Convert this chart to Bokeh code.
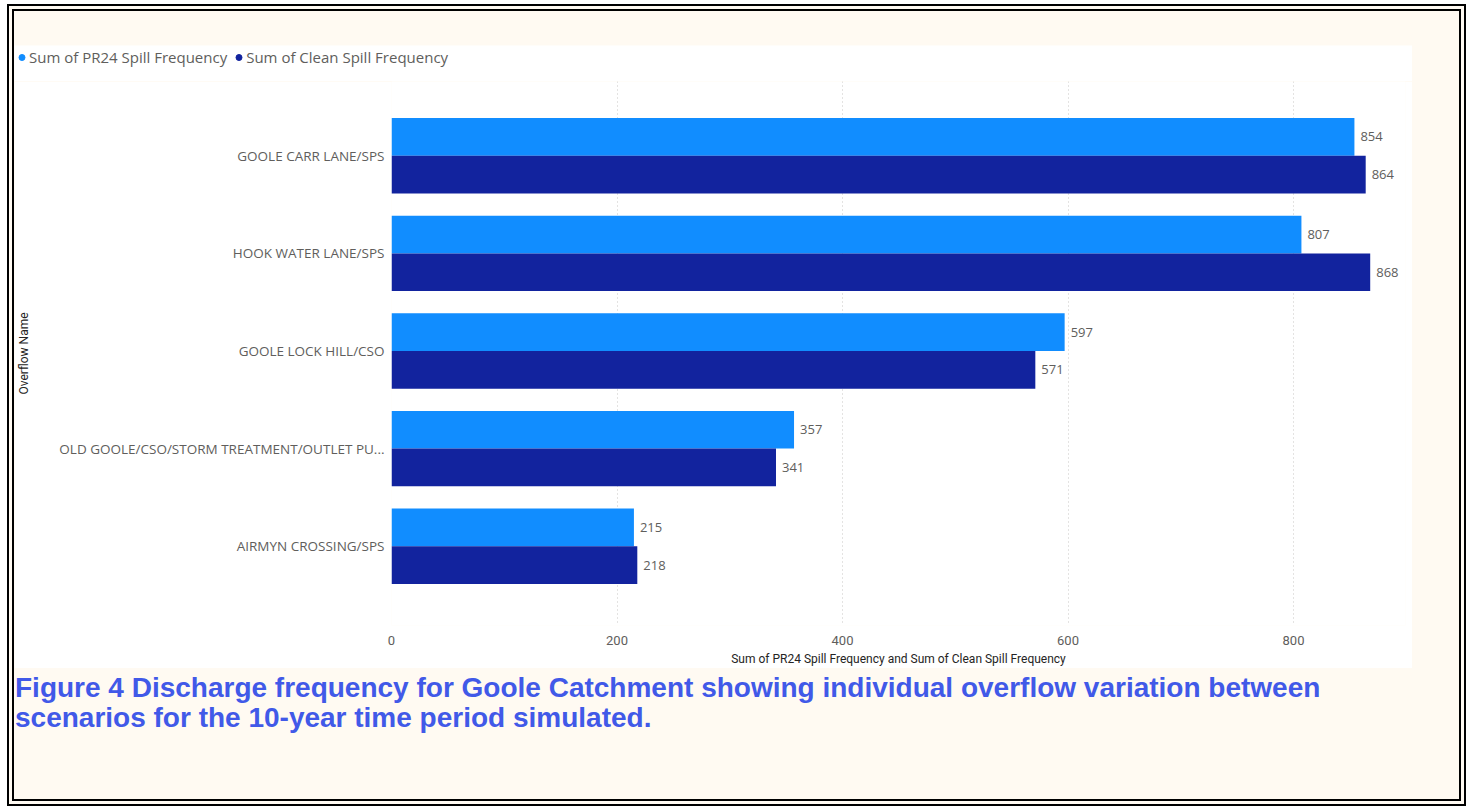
from bokeh.plotting import figure
from bokeh.models import (ColumnDataSource, Range1d, FixedTicker, LabelSet, Legend,
                          LegendItem, Div)
from bokeh.layouts import column, row
from bokeh.embed import file_html
from bokeh.resources import INLINE
from bokeh.core.properties import value
from bokeh.transform import dodge

# ---- data ----
overflows = ["GOOLE CARR LANE/SPS", "HOOK WATER LANE/SPS", "GOOLE LOCK HILL/CSO",
             "OLD GOOLE/CSO/STORM TREATMENT/OUTLET PU...", "AIRMYN CROSSING/SPS"]
pr24_spills = [854, 807, 597, 357, 215]
clean_spills = [864, 868, 571, 341, 218]
series_names = ["Sum of PR24 Spill Frequency", "Sum of Clean Spill Frequency"]
x_ticks = [0, 200, 400, 600, 800]
x_title = "Sum of PR24 Spill Frequency and Sum of Clean Spill Frequency"
y_title = "Overflow Name"
caption = ("Figure 4 Discharge frequency for Goole Catchment showing individual overflow variation between"
           "<br>scenarios for the 10-year time period simulated.")

# ---- styles ----
PR24_C = "#118DFF"
CLEAN_C = "#12239E"
GRAY = "#605E5C"
DARK = "#252423"
CREAM = "#FFFAF2"
UI_FONT = "Open Sans"
NUM_FONT = "Roboto"
BAR_H = 0.386

pos = list(range(len(overflows)))
src = ColumnDataSource(dict(pos=pos, name=overflows, pr24=pr24_spills, clean=clean_spills))

# ---- legend strip (top of the visual) ----
lg = figure(width=1398, height=36, output_backend="svg", toolbar_location=None, title=None,
            x_axis_type=None, y_axis_type=None, min_border=0,
            x_range=Range1d(0, 900), y_range=Range1d(-1, 5),
            background_fill_color="white", border_fill_color="white", outline_line_color=None)
r1 = lg.scatter(x="pr24", y="pos", size=0, color=PR24_C, source=src)
r2 = lg.scatter(x="clean", y="pos", size=0, color=CLEAN_C, source=src)
legend = Legend(items=[LegendItem(label=series_names[0], renderers=[r1]),
                       LegendItem(label=series_names[1], renderers=[r2])],
                orientation="horizontal", location=(0, 14),
                background_fill_alpha=0, border_line_color=None,
                glyph_width=15, glyph_height=18, label_standoff=0, spacing=4,
                padding=0, margin=0, label_text_font=UI_FONT, label_text_font_size="15px",
                label_text_color=GRAY, label_height=18)
lg.add_layout(legend)

# ---- main chart ----
p = figure(width=1398, height=587, output_backend="svg", toolbar_location=None, title=None,
           x_range=Range1d(0, 899.3), y_range=Range1d(4.812, -0.761),
           min_border_left=377, min_border_right=7, min_border_top=0, min_border_bottom=38,
           background_fill_color="white", border_fill_color="white", outline_line_color=None)

p.hbar(y=dodge("pos", -BAR_H / 2), left=0, right="pr24", height=BAR_H, source=src,
       fill_color=PR24_C, line_color=None)
p.hbar(y=dodge("pos", BAR_H / 2), left=0, right="clean", height=BAR_H, source=src,
       fill_color=CLEAN_C, line_color=None)

for fld, off in (("pr24", -BAR_H / 2), ("clean", BAR_H / 2)):
    p.add_layout(LabelSet(x=fld, y=dodge("pos", off), text=fld, source=src, x_offset=6,
                          text_baseline="middle", text_align="left",
                          text_font=value(UI_FONT), text_font_size="13px", text_color=GRAY))

# axes
xa = p.xaxis[0]
xa.ticker = FixedTicker(ticks=x_ticks)
xa.axis_label = x_title
xa.axis_label_text_font = NUM_FONT
xa.axis_label_text_font_size = "12px"
xa.axis_label_text_font_style = "normal"
xa.axis_label_text_color = DARK
xa.axis_label_standoff = 4
xa.major_label_text_font = NUM_FONT
xa.major_label_text_font_size = "13px"
xa.major_label_text_color = GRAY
xa.major_label_standoff = 4
xa.axis_line_color = None
xa.major_tick_line_color = None
xa.minor_tick_line_color = None

ya = p.yaxis[0]
ya.ticker = FixedTicker(ticks=pos)
ya.major_label_overrides = {i: n for i, n in zip(pos, overflows)}
ya.axis_label = y_title
ya.axis_label_text_font = NUM_FONT
ya.axis_label_text_font_size = "12px"
ya.axis_label_text_font_style = "normal"
ya.axis_label_text_color = DARK
ya.axis_label_standoff = 25
ya.major_label_text_font = UI_FONT
ya.major_label_text_font_size = "13.5px"
ya.major_label_text_color = GRAY
ya.major_label_standoff = 1
ya.axis_line_color = None
ya.major_tick_line_color = None
ya.minor_tick_line_color = None

p.xgrid.grid_line_color = "#C8C6C4"
p.xgrid.grid_line_dash = "1 3"
p.ygrid.grid_line_color = None

cap = Div(text=('<div style="font-family: \'Liberation Sans\', Arial, sans-serif; font-weight: bold; '
                'font-size: 28px; line-height: 30px; color: #4159E8; padding: 5px 0 0 1px; '
                'white-space: nowrap;">' + caption + '</div>'),
          width=1445, height=131, margin=0)

root = column(row(lg), p, cap, margin=(4, 0, 0, 7), spacing=0,
              styles={"background-color": CREAM, "border": "7px double #000", "padding-top": "34px"})

open("out.html", "w").write(file_html(root, INLINE))
